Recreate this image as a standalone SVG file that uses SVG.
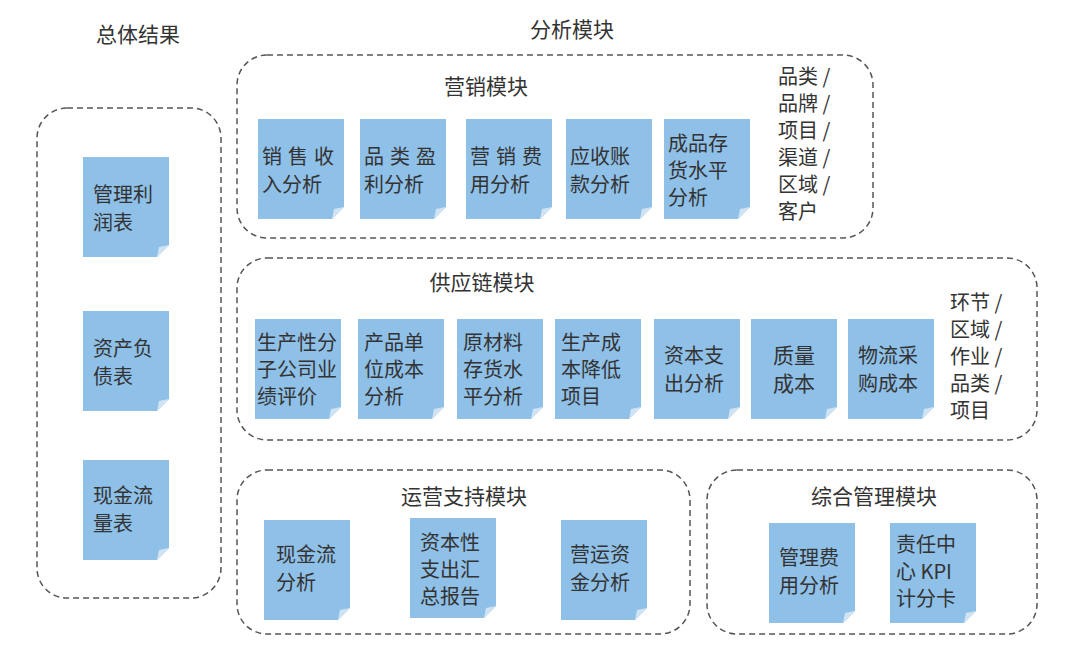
<svg xmlns="http://www.w3.org/2000/svg" width="1080" height="663" viewBox="0 0 1080 663">
<style>
text{font-family:"Noto Sans CJK SC","Noto Sans",sans-serif;fill:#333;font-size:20px}
.t{font-size:21px;text-anchor:middle}
.g{fill:none;stroke:#555;stroke-width:1.5;stroke-dasharray:6 4}
.b{fill:#8fc0e8}
.f{fill:#cfe3f3}
.s{fill:#444}
</style>
<defs>
<g id="box"><path class="b" d="M0 0H86V88L74 100H0Z"/><path class="f" d="M86 88L74 100L76 90Z"/></g>
</defs>
<rect width="1080" height="663" fill="#fff"/>
<text class="t" x="138" y="42">总体结果</text>
<text class="t" x="572" y="37">分析模块</text>
<g id="groups">
<rect class="g" x="37" y="108" width="184" height="490" rx="30"/>
<rect class="g" x="237" y="55" width="636" height="183" rx="30"/>
<rect class="g" x="237" y="258" width="800" height="182" rx="30"/>
<rect class="g" x="237" y="470" width="453" height="164" rx="30"/>
<rect class="g" x="707" y="470" width="330" height="164" rx="30"/>
</g>
<g id="left">
<g id="n1"><use href="#box" x="83" y="157"/><text x="93" y="202">管理利</text><text x="93" y="230">润表</text></g>
<g id="n2"><use href="#box" x="83" y="311"/><text x="93" y="356">资产负</text><text x="93" y="384">债表</text></g>
<g id="n3"><use href="#box" x="83" y="460"/><text x="93" y="503">现金流</text><text x="93" y="531">量表</text></g>
</g>
<g id="mkt">
<text class="t" x="486" y="94">营销模块</text>
<g id="m1"><use href="#box" x="258" y="119"/><text x="262" y="164" letter-spacing="6">销售收</text><text x="262" y="192">入分析</text></g>
<g id="m2"><use href="#box" x="360" y="119"/><text x="364" y="164" letter-spacing="6">品类盈</text><text x="364" y="192">利分析</text></g>
<g id="m3"><use href="#box" x="466" y="119"/><text x="470" y="164" letter-spacing="6">营销费</text><text x="470" y="192">用分析</text></g>
<g id="m4"><use href="#box" x="566" y="119"/><text x="570" y="164">应收账</text><text x="570" y="192">款分析</text></g>
<g id="m5"><use href="#box" x="664" y="119"/><text x="668" y="151">成品存</text><text x="668" y="178">货水平</text><text x="668" y="205">分析</text></g>
<g class="s"><text x="778" y="84">品类 /</text><text x="778" y="111">品牌 /</text><text x="778" y="138">项目 /</text><text x="778" y="165">渠道 /</text><text x="778" y="192">区域 /</text><text x="778" y="219">客户</text></g>
</g>
<g id="sup">
<text class="t" x="482" y="290">供应链模块</text>
<g id="s1"><use href="#box" x="255" y="319"/><text x="257" y="350">生产性分</text><text x="257" y="377">子公司业</text><text x="257" y="404">绩评价</text></g>
<g id="s2"><use href="#box" x="358" y="319"/><text x="364" y="350">产品单</text><text x="364" y="377">位成本</text><text x="364" y="404">分析</text></g>
<g id="s3"><use href="#box" x="457" y="319"/><text x="463" y="350">原材料</text><text x="463" y="377">存货水</text><text x="463" y="404">平分析</text></g>
<g id="s4"><use href="#box" x="555" y="319"/><text x="561" y="350">生产成</text><text x="561" y="377">本降低</text><text x="561" y="404">项目</text></g>
<g id="s5"><use href="#box" x="654" y="319"/><text x="664" y="363">资本支</text><text x="664" y="391">出分析</text></g>
<g id="s6"><use href="#box" x="751" y="319"/><text class="t" x="794" y="363">质量</text><text class="t" x="794" y="391">成本</text></g>
<g id="s7"><use href="#box" x="848" y="319"/><text x="858" y="363">物流采</text><text x="858" y="391">购成本</text></g>
<g class="s"><text x="950" y="310">环节 /</text><text x="950" y="337">区域 /</text><text x="950" y="364">作业 /</text><text x="950" y="391">品类 /</text><text x="950" y="418">项目</text></g>
</g>
<g id="ops">
<text class="t" x="464" y="504">运营支持模块</text>
<g id="o1"><use href="#box" x="264" y="520"/><text x="276" y="562">现金流</text><text x="276" y="590">分析</text></g>
<g id="o2"><use href="#box" x="410" y="518"/><text x="420" y="550">资本性</text><text x="420" y="577">支出汇</text><text x="420" y="604">总报告</text></g>
<g id="o3"><use href="#box" x="561" y="520"/><text x="570" y="562">营运资</text><text x="570" y="590">金分析</text></g>
</g>
<g id="cmp">
<text class="t" x="874" y="504">综合管理模块</text>
<g id="c1"><use href="#box" x="769" y="523"/><text x="779" y="565">管理费</text><text x="779" y="593">用分析</text></g>
<g id="c2"><use href="#box" x="890" y="523"/><text x="896" y="552">责任中</text><text x="896" y="579">心 KPI</text><text x="896" y="606">计分卡</text></g>
</g>
<g id="connectors"/>
</svg>
